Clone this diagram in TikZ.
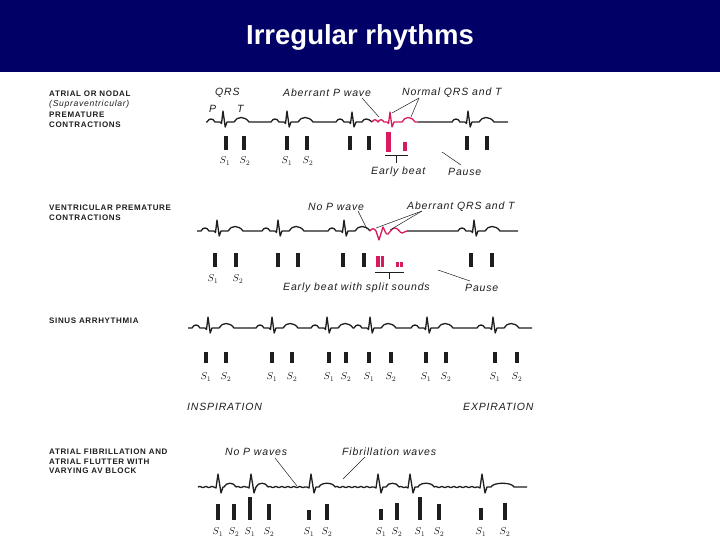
\documentclass[tikz,border=0pt]{standalone}
\usepackage{fontspec}
\setmainfont{Liberation Sans}
\newfontfamily\capsf[LetterSpace=8]{Liberation Sans}
\newfontfamily\annf[LetterSpace=8]{Liberation Sans}
\usetikzlibrary{decorations.pathmorphing}
\definecolor{navy}{RGB}{0,0,102}
\definecolor{ecgpink}{RGB}{216,27,96}
\definecolor{ink}{RGB}{30,30,30}
% normal beat: QRS peak at x=#1, baseline #2
\newcommand\NB[2]{-- ({#1-16},#2) .. controls ({#1-14},{#2-4}) and ({#1-10},{#2-4}) .. ({#1-8},#2)
 -- ({#1-3},#2) -- ({#1-1.5},{#2+1.5}) -- (#1,{#2-11}) -- ({#1+2.2},{#2+5}) -- ({#1+4},#2)
 -- ({#1+11},#2) .. controls ({#1+14},{#2-6}) and ({#1+22},{#2-6}) .. ({#1+26},#2)}
% fibrillation beat: QRS at #1, T from #2 to #3, baseline 487
\newcommand\FB[3]{({#1-4},487) -- ({#1-2},488) -- (#1,474) -- ({#1+3},493) -- ({#1+5},487) -- (#2,487)
 .. controls ({#2+2},482) and ({#3-2},482) .. (#3,487)}
\newcommand\HB[3]{\fill[ink] ({#1-1.8},#2) rectangle ({#1+1.8},#3);}
\begin{document}
\begin{tikzpicture}[x=1pt,y=-1pt,
  trace/.style={line width=1.3pt, draw=ink, line join=round},
  ptrace/.style={line width=1.3pt, draw=ecgpink, line join=round},
  fib/.style={trace, decorate, decoration={snake, amplitude=0.6pt, segment length=6pt}},
  lead/.style={line width=0.5pt, draw=ink},
  lbl/.style={font=\capsf\bfseries\fontsize{8}{9}\selectfont, anchor=west, inner sep=0, text=ink},
  lbli/.style={font=\capsf\itshape\fontsize{8.6}{9}\selectfont, anchor=west, inner sep=0, text=ink},
  ann/.style={font=\annf\itshape\fontsize{10.5}{11}\selectfont, anchor=west, inner sep=0, text=ink},
  slab/.style={font=\fontsize{10}{11}\selectfont, inner sep=0, text=ink}]
\useasboundingbox (0,0) rectangle (720,540);
\fill[white] (0,0) rectangle (720,540);
\fill[navy] (0,0) rectangle (720,72);
\node[text=white, font=\bfseries\fontsize{27.5}{30}\selectfont] (title) at (360,37) {Irregular rhythms};

% ---------- Panel 1 ----------
\node[lbl] (l1a) at (49,94) {ATRIAL OR NODAL};
\node[lbli] (l1b) at (49,104) {(Supraventricular)};
\node[lbl] (l1c) at (49,115) {PREMATURE};
\node[lbl] (l1d) at (49,125) {CONTRACTIONS};
\node[ann] (qrs1) at (215,93) {QRS};
\node[ann] (abp1) at (283,93) {Aberrant P wave};
\node[ann] (nqt1) at (402,93) {Normal QRS and T};
\node[ann] (pl1) at (209,109) {P};
\node[ann] (tl1) at (237,109) {T};
\node[ann] (eb1) at (371,172) {Early beat};
\node[ann] (pa1) at (448,172) {Pause};
\draw[trace] (206,122) \NB{223}{122} \NB{287}{122} -- (336,122)
  .. controls (338,118) and (342,118) .. (344,122) -- (349,122) -- (350.5,123.5) -- (352,112)
  -- (354,127) -- (356,122) -- (362,122) .. controls (364,118) and (368,118) .. (372,122);
\draw[ptrace] (372,122) .. controls (374,119) and (376,119) .. (378,122)
  .. controls (380,119) and (382,119) .. (384,122) -- (387,122) -- (388.5,123.5) -- (390,112)
  -- (392,127) -- (394,122) -- (402,122) .. controls (405,116) and (411,116) .. (415,122) -- (418,122);
\draw[trace] (418,122) \NB{468}{122} -- (508,122);
\foreach \x in {226,244,287,307,350,369,467,487} {\HB{\x}{136}{150}}
\fill[ecgpink] (386,132) rectangle (390.5,152);
\fill[ecgpink] (403,142) rectangle (406.5,151);
\foreach \x/\n/\k in {225/1/a,245/2/b,287/1/c,308/2/d} {\node[slab] (s1\k) at (\x,161) {$S_\n$};}
\coordinate (br1l) at (385,155); \coordinate (br1r) at (408,155);
\coordinate (br1m) at (396.5,155); \coordinate (br1t) at (396.5,163);
\draw[lead] (br1l) -- (br1r); \draw[lead] (br1m) -- (br1t);
\coordinate (a1s) at (362,98); \coordinate (a1e) at (379,117);
\coordinate (n1s) at (419,98); \coordinate (n1e) at (392,113); \coordinate (n1f) at (411,117);
\coordinate (p1s) at (442,152); \coordinate (p1e) at (461,165);
\draw[lead] (a1s) -- (a1e); \draw[lead] (n1s) -- (n1e); \draw[lead] (n1s) -- (n1f);
\draw[lead] (p1s) -- (p1e);

% ---------- Panel 2 ----------
\node[lbl] (l2a) at (49,208) {VENTRICULAR PREMATURE};
\node[lbl] (l2b) at (49,218) {CONTRACTIONS};
\node[ann] (np2) at (308,207) {No P wave};
\node[ann] (aq2) at (407,207) {Aberrant QRS and T};
\node[ann] (eb2) at (283,288) {Early beat with split sounds};
\node[ann] (pa2) at (465,288) {Pause};
\draw[trace] (197,231) \NB{217}{231} \NB{278}{231} \NB{344}{231};
\draw[ptrace] (370,231) .. controls (372,228) and (374,228) .. (376,231) -- (379,240) -- (383,227)
  .. controls (385,231) and (386,235) .. (388,234) .. controls (390,232) and (392,228) .. (395,228)
  .. controls (398,228) and (400,233) .. (402,233) .. controls (404,233) and (405,231) .. (407,231);
\draw[trace] (407,231) \NB{474}{231} -- (518,231);
\foreach \x in {215,236,278,298,343,364,471,492} {\HB{\x}{253}{267}}
\foreach \x in {378,382.5} {\fill[ecgpink] ({\x-1.7},256) rectangle ({\x+1.7},267);}
\foreach \x in {397,401.5} {\fill[ecgpink] ({\x-1.5},262) rectangle ({\x+1.5},267);}
\foreach \x/\n/\k in {213/1/a,238/2/b} {\node[slab] (s2\k) at (\x,279) {$S_\n$};}
\coordinate (br2l) at (375,272); \coordinate (br2r) at (404,272);
\coordinate (br2m) at (389.5,272); \coordinate (br2t) at (389.5,279);
\draw[lead] (br2l) -- (br2r); \draw[lead] (br2m) -- (br2t);
\coordinate (n2s) at (358,211); \coordinate (n2e) at (367,229);
\coordinate (q2s) at (422,211); \coordinate (q2e) at (376,228); \coordinate (q2f) at (390,230);
\coordinate (p2s) at (438,270); \coordinate (p2e) at (470,281);
\draw[lead] (n2s) -- (n2e); \draw[lead] (q2s) -- (q2e); \draw[lead] (q2s) -- (q2f);
\draw[lead] (p2s) -- (p2e);

% ---------- Panel 3 ----------
\node[lbl] (l3a) at (49,321) {SINUS ARRHYTHMIA};
\draw[trace] (188,328) \NB{208}{328} \NB{272}{328} \NB{327}{328} \NB{370}{328} \NB{427}{328} \NB{493}{328} -- (532,328);
\foreach \x/\n/\k in {206/1/a,226/2/b,272/1/c,292/2/d,329/1/e,346/2/f,369/1/g,391/2/h,426/1/i,446/2/j,495/1/k,517/2/l}
  {\HB{\x}{352}{363} \node[slab] (s3\k) at (\x,377) {$S_\n$};}
\node[ann] (insp) at (187,407) {INSPIRATION};
\node[ann] (expi) at (463,407) {EXPIRATION};

% ---------- Panel 4 ----------
\node[lbl] (l4a) at (49,452) {ATRIAL FIBRILLATION AND};
\node[lbl] (l4b) at (49,462) {ATRIAL FLUTTER WITH};
\node[lbl] (l4c) at (49,471) {VARYING AV BLOCK};
\node[ann] (np4) at (225,452) {No P waves};
\node[ann] (fw4) at (342,452) {Fibrillation waves};
\draw[fib] (198,487) -- (214,487);
\draw[trace] \FB{218}{224}{236};
\draw[fib] (236,487) -- (247,487);
\draw[trace] \FB{251}{256}{268};
\draw[fib] (268,487) -- (307,487);
\draw[trace] \FB{311}{319}{335};
\draw[fib] (335,487) -- (374,487);
\draw[trace] \FB{378}{386}{399};
\draw[fib] (399,487) -- (406,487);
\draw[trace] \FB{410}{418}{434};
\draw[fib] (434,487) -- (478,487);
\draw[trace] \FB{482}{491}{514} -- (527,487);
\foreach \x/\t/\n/\k in {218/504/1/a,234/504/2/b,250/497/1/c,269/504/2/d,309/510/1/e,327/504/2/f,381/509/1/g,397/503/2/h,420/497/1/i,439/504/2/j,481/508/1/k,505/503/2/l}
  {\HB{\x}{\t}{520} \node[slab] (s4\k) at (\x,532) {$S_\n$};}
\coordinate (n4s) at (275,458); \coordinate (n4e) at (297,486);
\coordinate (f4s) at (365,457); \coordinate (f4e) at (343,479);
\draw[lead] (n4s) -- (n4e); \draw[lead] (f4s) -- (f4e);
\end{tikzpicture}
\end{document}
